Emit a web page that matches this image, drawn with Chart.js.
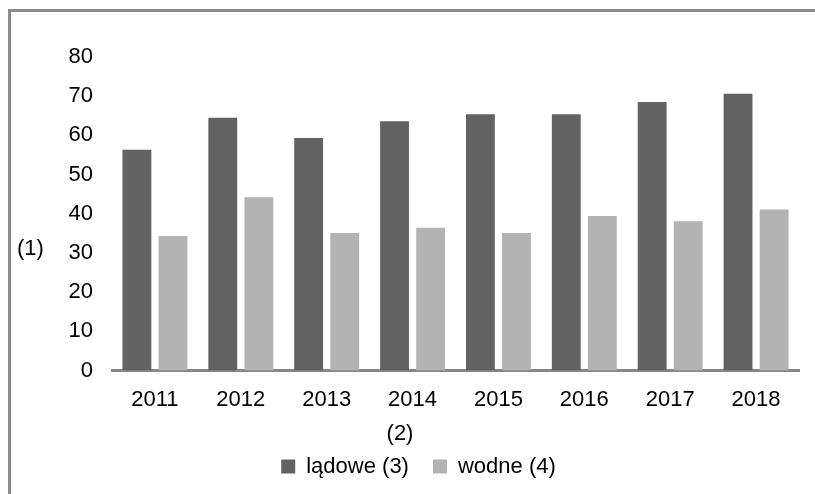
<!DOCTYPE html>
<html>
<head>
<meta charset="utf-8">
<script src="https://cdn.jsdelivr.net/npm/chart.js"></script>
<style>
  html, body { margin: 0; padding: 0; background: #fff; overflow: hidden; }
  canvas { display: block; }
</style>
</head>
<body>
<canvas id="chart" width="815" height="494"></canvas>
<script>
// chart data
const years = ['2011', '2012', '2013', '2014', '2015', '2016', '2017', '2018'];
const ladowe = [56.3, 64.5, 59.3, 63.6, 65.4, 65.4, 68.5, 70.6];
const wodne = [34.3, 44.2, 35.1, 36.4, 35.1, 39.4, 38.1, 41.1];
const seriesNames = ['lądowe (3)', 'wodne (4)'];
const yTitle = '(1)';
const xTitle = '(2)';

const font = 'Liberation Sans, Arial, sans-serif';
const fontSize = 22;

// outer frame: only the top and left edges fall inside the picture
const frame = {
  id: 'frame',
  beforeDraw(chart) {
    const ctx = chart.ctx;
    ctx.save();
    ctx.strokeStyle = '#8c8c8c';
    ctx.lineWidth = 3;
    ctx.beginPath();
    ctx.moveTo(9.5, chart.height);
    ctx.lineTo(9.5, 10.5);
    ctx.lineTo(chart.width, 10.5);
    ctx.stroke();
    ctx.restore();
  }
};

// axis notes "(1)" and "(2)" are drawn flat, not rotated
const axisNotes = {
  id: 'axisNotes',
  afterDraw(chart) {
    const ctx = chart.ctx;
    ctx.save();
    ctx.fillStyle = '#000';
    ctx.font = fontSize + 'px ' + font;
    ctx.textBaseline = 'middle';
    ctx.textAlign = 'left';
    ctx.fillText(yTitle, 17, 249);
    ctx.textAlign = 'center';
    ctx.fillText(xTitle, 400, 434);
    ctx.restore();
  }
};

new Chart(document.getElementById('chart'), {
  type: 'bar',
  data: {
    labels: years,
    datasets: [
      { label: seriesNames[0], data: ladowe, backgroundColor: '#626262' },
      { label: seriesNames[1], data: wodne, backgroundColor: '#b3b3b3' }
    ]
  },
  options: {
    responsive: false,
    animation: false,
    categoryPercentage: 0.84,
    barPercentage: 0.8,
    layout: { padding: { top: 57, left: 38, right: 16, bottom: 6.5 } },
    scales: {
      x: {
        grid: { display: false, drawTicks: false },
        border: { display: true, color: '#878787', width: 3 },
        ticks: { color: '#000', padding: 16, font: { family: font, size: fontSize } },
        afterFit: s => { s.height = 61; }
      },
      y: {
        min: 0,
        max: 80,
        grid: { display: false, drawTicks: false },
        border: { display: false },
        ticks: { stepSize: 10, color: '#000', padding: 19, font: { family: font, size: fontSize } },
        afterFit: s => { s.width = 74; }
      }
    },
    plugins: {
      legend: {
        position: 'bottom',
        labels: {
          boxWidth: 14,
          boxHeight: 14,
          padding: 24,
          color: '#000',
          font: { family: font, size: fontSize }
        }
      },
      tooltip: { enabled: false }
    }
  },
  plugins: [frame, axisNotes]
});
</script>
</body>
</html>
